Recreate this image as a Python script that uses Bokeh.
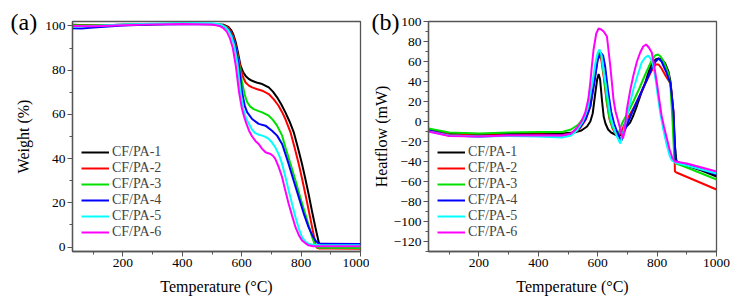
from bokeh.plotting import figure
from bokeh.layouts import row
from bokeh.models import Range1d, FixedTicker, Legend, LegendItem, Title
from bokeh.embed import file_html
from bokeh.resources import INLINE

FONT = "Liberation Serif"

series_labels = ["CF/PA-1", "CF/PA-2", "CF/PA-3", "CF/PA-4", "CF/PA-5", "CF/PA-6"]
series_colors = ["#000000", "#FF0000", "#00E000", "#0000FF", "#00FFFF", "#FF00FF"]

# ---- TGA: weight (%) vs temperature (°C) ----
tga_temp_1 = [30, 100, 200, 300, 400, 500, 540, 555, 565, 572, 580, 588, 596, 605, 613, 624, 635, 650, 669, 691, 705, 719, 733, 747, 761, 775, 789, 803, 814, 825, 837, 848, 855, 859, 863, 870, 900, 950, 1000]
tga_weight_1 = [100.5, 100.2, 100.5, 100.8, 101.0, 100.9, 100.5, 99.6, 98.0, 96.0, 92.5, 87.5, 82.0, 79.0, 77.4, 76.0, 75.2, 74.4, 73.7, 72.2, 70.3, 67.7, 64.6, 60.9, 56.8, 52.0, 45.0, 37.6, 31.0, 24.1, 16.0, 9.0, 4.8, 2.3, 1.3, 1.1, 1.1, 1.0, 1.0]

tga_temp_2 = [30, 100, 200, 300, 400, 500, 540, 553, 563, 572, 580, 588, 596, 604, 613, 624, 635, 650, 669, 691, 708, 724, 736, 747, 764, 778, 792, 803, 814, 825, 837, 843, 848, 853, 860, 900, 1000]
tga_weight_2 = [100.3, 100.2, 100.5, 100.8, 101.0, 100.8, 100.3, 99.3, 97.5, 95.0, 91.0, 86.0, 81.0, 77.0, 74.4, 73.0, 72.2, 71.5, 70.7, 69.2, 66.8, 63.9, 61.0, 57.9, 52.0, 45.0, 37.6, 31.0, 24.1, 17.0, 9.0, 5.0, 1.5, -0.3, -0.6, -0.7, -0.8]

tga_temp_3 = [30, 100, 200, 300, 400, 500, 535, 550, 560, 570, 580, 590, 601, 610, 618, 628, 640, 655, 669, 691, 705, 719, 736, 747, 764, 781, 797, 814, 826, 837, 845, 850, 860, 1000]
tga_weight_3 = [100.3, 100.2, 100.5, 100.9, 101.1, 100.9, 100.2, 99.0, 97.2, 94.5, 90.0, 83.5, 74.5, 69.0, 65.6, 63.6, 62.4, 61.6, 60.9, 59.4, 57.5, 54.9, 50.4, 45.1, 37.8, 30.1, 22.5, 15.1, 9.5, 4.5, 1.5, 0.2, -0.3, -0.4]

tga_temp_4 = [30, 60, 100, 200, 300, 400, 500, 535, 550, 560, 570, 580, 590, 601, 610, 618, 635, 657, 680, 702, 719, 736, 758, 775, 792, 808, 825, 837, 848, 855, 862, 880, 1000]
tga_weight_4 = [99.0, 98.8, 99.3, 100.2, 100.6, 100.8, 100.7, 100.1, 99.0, 97.3, 94.5, 90.0, 82.5, 70.0, 64.0, 61.0, 57.9, 55.7, 54.9, 52.6, 50.4, 46.6, 37.6, 30.0, 22.6, 15.5, 9.0, 5.5, 3.0, 2.0, 1.5, 1.5, 1.4]

tga_temp_5 = [30, 100, 200, 300, 400, 500, 530, 545, 555, 565, 575, 585, 596, 605, 615, 625, 635, 646, 658, 669, 680, 691, 702, 713, 725, 736, 747, 758, 770, 781, 792, 803, 814, 825, 840, 870, 1000]
tga_weight_5 = [99.6, 100.0, 100.6, 101.0, 101.2, 101.2, 100.6, 99.5, 98.0, 95.5, 91.0, 83.5, 70.0, 62.5, 58.0, 55.5, 53.0, 51.5, 50.8, 50.4, 49.8, 48.9, 47.3, 45.1, 41.8, 37.6, 31.8, 25.6, 19.2, 13.5, 8.5, 4.5, 2.5, 1.5, 1.0, 0.8, 0.8]

tga_temp_6 = [30, 100, 200, 300, 400, 500, 525, 538, 550, 560, 570, 580, 591, 600, 607, 615, 625, 635, 646, 657, 668, 680, 690, 697, 705, 713, 725, 736, 747, 758, 770, 781, 792, 803, 814, 825, 840, 860, 1000]
tga_weight_6 = [100.0, 99.9, 100.3, 100.7, 100.9, 100.6, 100.0, 99.0, 97.3, 94.5, 90.0, 82.0, 70.0, 63.0, 59.4, 56.0, 52.5, 50.0, 48.0, 46.6, 44.5, 42.9, 42.4, 42.1, 41.3, 39.9, 36.0, 31.6, 25.5, 19.6, 14.0, 9.0, 5.5, 3.0, 1.8, 0.8, 0.4, 0.4, 0.4]

# ---- DSC: heat flow (mW) vs temperature (°C) ----
dsc_temp_1 = [30, 60, 100, 200, 300, 400, 480, 520, 545, 564, 575, 583, 592, 598, 603, 608, 614, 620, 626, 635, 645, 665, 675, 687, 700, 709, 720, 732, 745, 760, 772, 782, 795, 805, 816, 827, 838, 845, 850, 855, 860, 865, 880, 950, 1000]
dsc_flow_1 = [-8, -10, -12, -13, -12.5, -12, -12, -11, -9, -5, 0, 8, 29, 42, 47.5, 42, 22, 5, -2, -8, -11, -14, -14, -9, -4, -1, 6, 15.7, 27, 39, 50, 58, 62, 63, 62, 58, 50, 40, 25, 5, -24, -40, -42, -49, -55]

dsc_temp_2 = [30, 100, 200, 300, 400, 480, 515, 540, 560, 575, 588, 598, 605, 612, 620, 630, 640, 650, 660, 670, 680, 690, 700, 720, 740, 760, 780, 795, 805, 815, 830, 845, 855, 860, 865, 1000]
dsc_flow_2 = [-9, -13, -14, -13.5, -13, -13.5, -12, -7, 2, 15, 40, 60, 66, 62, 45, 20, 2, -7, -12, -15, -10, -3, 3, 13, 25, 38, 50, 57, 57, 53, 45, 38, 10, -50, -51, -68]

dsc_temp_3 = [30, 100, 200, 300, 400, 480, 510, 535, 555, 570, 585, 597, 605, 612, 620, 630, 640, 650, 660, 670, 678, 685, 700, 720, 740, 760, 780, 793, 803, 812, 825, 838, 845, 852, 858, 865, 900, 1000]
dsc_flow_3 = [-7, -11, -12, -11, -10.5, -10.5, -8, -3, 5, 15, 40, 62, 70, 66, 48, 22, 3, -6, -10, -12, -5, 0, 8, 20, 33, 47, 60, 66, 67, 65, 58, 48, 35, 0, -38, -42, -46, -58]

dsc_temp_4 = [30, 100, 200, 300, 400, 480, 515, 540, 560, 575, 590, 600, 610, 618, 625, 635, 645, 655, 665, 675, 680, 690, 700, 720, 740, 760, 780, 795, 805, 815, 830, 845, 855, 862, 870, 900, 1000]
dsc_flow_4 = [-9, -14, -15, -14, -14, -14, -12, -6, 3, 15, 42, 62, 69, 66, 55, 30, 10, -2, -10, -17, -19, -10, -2, 12, 25, 38, 52, 60, 63, 60, 50, 38, 10, -38, -41, -43, -53]

dsc_temp_5 = [30, 100, 200, 300, 400, 480, 510, 530, 550, 565, 575, 583, 592, 600, 606, 613, 620, 626, 635, 642, 650, 659, 668, 676, 685, 698, 720, 735, 748, 760, 770, 780, 787, 795, 804, 812, 821, 832, 842, 850, 860, 900, 1000]
dsc_flow_5 = [-10, -14, -15, -14.5, -15, -16, -14, -9, 0, 12, 28, 40, 58, 69, 72, 66, 50, 39, 20, 6, -3, -11, -17, -22, -12, 5, 32, 47, 59, 64, 66, 62, 56, 42, 22, 6, -8, -23, -34, -39, -41, -44, -52]

dsc_temp_6 = [30, 100, 200, 300, 400, 480, 510, 531, 545, 558, 568, 575, 580, 586, 595, 603, 612, 620, 631, 636, 642, 648, 653, 660, 670, 678, 685, 690, 698, 710, 720, 732, 743, 753, 763, 772, 782, 790, 799, 807, 815, 823, 832, 842, 852, 860, 900, 1000]
dsc_flow_6 = [-10, -14.5, -15, -14, -14, -14, -12, -6, 0, 9, 22, 39, 55, 72, 88, 93, 92, 90, 85, 72, 56, 38, 22, 10, -1, -10, -17, -10, 12, 32, 46, 60, 69, 75, 77, 74, 69, 56, 39, 22, 6, -5, -16, -28, -37, -40, -42, -50]

tga_series = list(zip(
    [tga_temp_1, tga_temp_2, tga_temp_3, tga_temp_4, tga_temp_5, tga_temp_6],
    [tga_weight_1, tga_weight_2, tga_weight_3, tga_weight_4, tga_weight_5, tga_weight_6],
))
dsc_series = list(zip(
    [dsc_temp_1, dsc_temp_2, dsc_temp_3, dsc_temp_4, dsc_temp_5, dsc_temp_6],
    [dsc_flow_1, dsc_flow_2, dsc_flow_3, dsc_flow_4, dsc_flow_5, dsc_flow_6],
))

x_major = [200, 400, 600, 800, 1000]
x_minor = [100, 300, 500, 700, 900]
tga_major = [0, 20, 40, 60, 80, 100]
tga_minor = [10, 30, 50, 70, 90]
dsc_major = [-120, -100, -80, -60, -40, -20, 0, 20, 40, 60, 80, 100]
dsc_minor = [-130, -110, -90, -70, -50, -30, -10, 10, 30, 50, 70, 90]

FRAME_H = 230
AXIS_COLOR = "#555555"


def make_panel(series, y_range, y_major, y_minor, y_label, tag, tag_offset,
               border_left, border_right, frame_w, label_standoff):
    p = figure(
        width=border_left + frame_w + border_right, height=21 + FRAME_H + 52,
        min_border_left=border_left, min_border_right=border_right,
        min_border_top=21, min_border_bottom=52,
        x_range=Range1d(30, 1000), y_range=y_range,
        output_backend="svg", toolbar_location=None,
    )
    p.grid.visible = False
    p.outline_line_color = AXIS_COLOR
    p.outline_line_width = 1.3
    p.background_fill_color = "white"
    p.border_fill_color = "white"

    p.xaxis.ticker = FixedTicker(ticks=x_major, minor_ticks=x_minor)
    p.yaxis.ticker = FixedTicker(ticks=y_major, minor_ticks=y_minor)
    p.xaxis.axis_label = "Temperature (°C)"
    p.yaxis.axis_label = y_label
    for ax in (p.xaxis[0], p.yaxis[0]):
        ax.axis_label_text_font = FONT
        ax.axis_label_text_font_size = "16px"
        ax.axis_label_text_font_style = "normal"
        ax.axis_label_text_color = "black"
        ax.major_label_text_font = FONT
        ax.major_label_text_font_size = "13.5px"
        ax.major_label_text_color = "black"
        ax.axis_line_color = AXIS_COLOR
        ax.axis_line_width = 1.3
        ax.major_tick_line_color = AXIS_COLOR
        ax.minor_tick_line_color = AXIS_COLOR
        ax.major_tick_in = 0
        ax.major_tick_out = 5
        ax.minor_tick_in = 0
        ax.minor_tick_out = 3
        ax.major_label_standoff = 2
    p.xaxis.axis_label_standoff = 8
    p.yaxis.axis_label_standoff = label_standoff

    items = []
    for (xs, ys), color, name in zip(series, series_colors, series_labels):
        r = p.line(xs, ys, line_color=color, line_width=2)
        items.append(LegendItem(label=name, renderers=[r]))

    legend = Legend(
        items=items, location=(9, 11),
        background_fill_alpha=0, border_line_alpha=0,
        padding=0, margin=0, spacing=0,
        glyph_width=28, glyph_height=16, label_height=16,
        label_standoff=3,
        label_text_font=FONT, label_text_font_size="14px",
    )
    p.add_layout(legend)

    # panel tag "(a)" / "(b)" in the top-left corner, left of the y tick labels
    p.add_layout(Title(
        text=tag, align="left", vertical_align="bottom",
        offset=tag_offset, standoff=-26,
        text_font=FONT, text_font_size="24px", text_font_style="normal",
        text_color="black",
    ), "above")
    return p


p_tga = make_panel(tga_series, Range1d(-2, 102), tga_major, tga_minor,
                   "Weight (%)", "(a)", -62, 72, 9, 288, 10)
p_dsc = make_panel(dsc_series, Range1d(-130, 100), dsc_major, dsc_minor,
                   "Heatflow (mW)", "(b)", -57, 58, 22, 289, 1)

layout = row(p_tga, p_dsc)
open("out.html", "w").write(file_html(layout, INLINE))
